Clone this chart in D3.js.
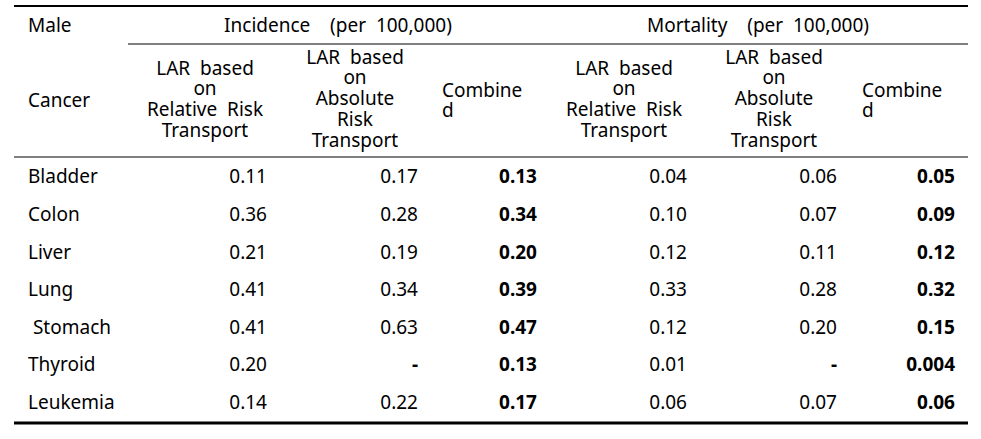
<!DOCTYPE html>
<html>
<head>
<meta charset="utf-8">
<script src="https://cdn.jsdelivr.net/npm/d3@7"></script>
<style>
  body { margin: 0; background: #fff; }
  svg text { font-family: "Noto Sans", "Noto Sans CJK KR", sans-serif; font-size: 19px; fill: #000; }
</style>
</head>
<body>
<svg class="tbl"></svg>
<script>
const width = 981;
const height = 439;

// table data
const cancers = ['Bladder', 'Colon', 'Liver', 'Lung', '\u00a0Stomach', 'Thyroid', 'Leukemia'];
const incRelative = ['0.11', '0.36', '0.21', '0.41', '0.41', '0.20', '0.14'];
const incAbsolute = ['0.17', '0.28', '0.19', '0.34', '0.63', '-', '0.22'];
const incCombined = ['0.13', '0.34', '0.20', '0.39', '0.47', '0.13', '0.17'];
const morRelative = ['0.04', '0.10', '0.12', '0.33', '0.12', '0.01', '0.06'];
const morAbsolute = ['0.06', '0.07', '0.11', '0.28', '0.20', '-', '0.07'];
const morCombined = ['0.05', '0.09', '0.12', '0.32', '0.15', '0.004', '0.06'];

const sp = n => '\u00a0'.repeat(n);
const groupLabels = ['Incidence' + sp(4) + '(per' + sp(2) + '100,000)', 'Mortality' + sp(4) + '(per' + sp(2) + '100,000)'];
const relHeader = ['LAR' + sp(2) + 'based', 'on', 'Relative' + sp(2) + 'Risk', 'Transport'];
const absHeader = ['LAR' + sp(2) + 'based', 'on', 'Absolute', 'Risk', 'Transport'];
const combHeader = ['Combine', 'd'];

const svg = d3.select('.tbl').attr('width', width).attr('height', height);

const left = 14, right = 968;
const topLine = 6, groupLine = 44, headLine = 157, bottomLine = 423;

// row scale
const y = d3.scaleBand().domain(d3.range(cancers.length)).range([headLine + 1, bottomLine - 2]);

// columns: right edge of each value column
const colRight = [267, 418, 537, 687, 837, 955];
const colCenter = [205, 355, 624, 774];
const combLeft = [442, 862];
const series = [incRelative, incAbsolute, incCombined, morRelative, morAbsolute, morCombined];

// rules
svg.append('line').attr('x1', left).attr('x2', right).attr('y1', topLine).attr('y2', topLine)
  .attr('stroke', '#000').attr('stroke-width', 2);
svg.append('line').attr('x1', 128).attr('x2', right).attr('y1', groupLine).attr('y2', groupLine)
  .attr('stroke', '#000').attr('stroke-width', 1);
svg.append('line').attr('x1', left).attr('x2', right).attr('y1', headLine).attr('y2', headLine)
  .attr('stroke', '#000').attr('stroke-width', 1);
svg.append('line').attr('x1', left).attr('x2', right).attr('y1', bottomLine).attr('y2', bottomLine)
  .attr('stroke', '#000').attr('stroke-width', 3);

// header
svg.append('text').attr('x', 28).attr('y', 25).attr('dy', '0.35em').text('Male');
svg.append('text').attr('x', 28).attr('y', 100).attr('dy', '0.35em').text('Cancer');
svg.selectAll('.group')
  .data(groupLabels)
  .enter()
  .append('text')
  .attr('class', 'group')
  .attr('x', (d, i) => [338, 758][i])
  .attr('y', 25)
  .attr('dy', '0.35em')
  .attr('text-anchor', 'middle')
  .text(d => d);

// multi-line header cell as one text with tspans
function headerLines(lines, x, yStart, anchor) {
  svg.append('text')
    .attr('text-anchor', anchor)
    .selectAll('tspan')
    .data(lines)
    .enter()
    .append('tspan')
    .attr('x', x)
    .attr('y', (d, i) => yStart + i * 20.8)
    .attr('dy', '0.35em')
    .text(d => d);
}
[0, 1].forEach(g => {
  headerLines(relHeader, colCenter[g * 2], 68, 'middle');
  headerLines(absHeader, colCenter[g * 2 + 1], 57, 'middle');
  headerLines(combHeader, combLeft[g], 90, 'start');
});

// body
const rows = svg.append('g')
  .selectAll('g')
  .data(cancers)
  .enter()
  .append('g')
  .attr('transform', (d, i) => 'translate(0,' + (y(i) + y.bandwidth() / 2) + ')');

rows.append('text').attr('x', 28).attr('dy', '0.35em').text(d => d);

series.forEach((vals, c) => {
  rows.append('text')
    .attr('x', colRight[c])
    .attr('dy', '0.35em')
    .attr('text-anchor', 'end')
    .style('font-weight', (d, i) => (c === 2 || c === 5 || vals[i] === '-') ? 'bold' : 'normal')
    .text((d, i) => vals[i]);
});
</script>
</body>
</html>
